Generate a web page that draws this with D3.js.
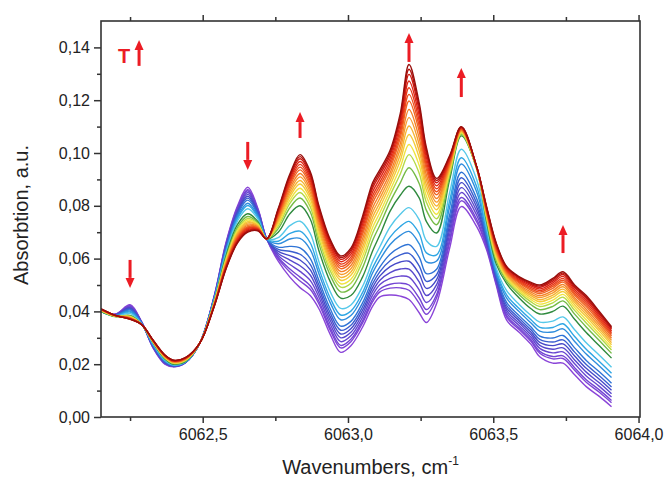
<!DOCTYPE html>
<html>
<head>
<meta charset="utf-8">
<script src="https://cdn.jsdelivr.net/npm/d3@7/dist/d3.min.js"></script>
<style>
	body { margin: 0; background: #fff; }
	svg { display: block; font-family: "Liberation Sans", Arial, sans-serif; }
</style>
</head>
<body>
<div id="chart"></div>
<script>
var wavenumbers = [6062.15, 6062.20, 6062.25, 6062.29, 6062.33, 6062.37, 6062.40, 6062.44, 6062.49, 6062.54,
	6062.58, 6062.62, 6062.655, 6062.69, 6062.72, 6062.76, 6062.80, 6062.835, 6062.87, 6062.90,
	6062.94, 6062.975, 6063.01, 6063.05, 6063.085, 6063.11, 6063.145, 6063.18, 6063.21, 6063.245,
	6063.27, 6063.305, 6063.35, 6063.39, 6063.443, 6063.477, 6063.51, 6063.546, 6063.59, 6063.63,
	6063.66, 6063.705, 6063.74, 6063.78, 6063.82, 6063.865, 6063.907];

// first scan (violet, lowest T)
var firstScan = [0.040, 0.039, 0.0425, 0.036, 0.026, 0.020, 0.019, 0.0205, 0.028, 0.046,
	0.066, 0.080, 0.087, 0.079, 0.0675, 0.059, 0.053, 0.049, 0.046, 0.041,
	0.031, 0.0245, 0.027, 0.034, 0.042, 0.0455, 0.0462, 0.0458, 0.0445, 0.0395,
	0.0358, 0.043, 0.064, 0.0797, 0.0721, 0.0633, 0.050, 0.0367, 0.032, 0.0275,
	0.0228, 0.0204, 0.0204, 0.016, 0.0115, 0.0078, 0.0039];

// dark green scan in the middle of the series
var midScan = [0.040, 0.038, 0.0385, 0.035, 0.028, 0.022, 0.020, 0.021, 0.028, 0.044,
	0.061, 0.073, 0.077, 0.074, 0.0675, 0.070, 0.077, 0.080, 0.075, 0.063,
	0.051, 0.045, 0.046, 0.053, 0.063, 0.069, 0.078, 0.084, 0.0874, 0.083,
	0.074, 0.0697, 0.090, 0.1065, 0.094, 0.074, 0.058, 0.0505, 0.045, 0.041,
	0.039, 0.040, 0.042, 0.037, 0.032, 0.027, 0.0223];

// last scan (dark red, highest T)
var lastScan = [0.041, 0.0385, 0.037, 0.035, 0.029, 0.0235, 0.0215, 0.0225, 0.028, 0.042,
	0.056, 0.066, 0.070, 0.0705, 0.0675, 0.079, 0.092, 0.0994, 0.093, 0.080,
	0.067, 0.061, 0.064, 0.076, 0.0888, 0.0937, 0.101, 0.115, 0.1335, 0.119,
	0.102, 0.0904, 0.099, 0.110, 0.0948, 0.0797, 0.066, 0.057, 0.0531, 0.051,
	0.050, 0.0525, 0.055, 0.050, 0.046, 0.040, 0.0342];

// height of every trace at the 6063.21 peak, violet -> red
var peakLevels = [0.0445, 0.048, 0.050, 0.053, 0.056, 0.059, 0.062, 0.0653, 0.0703, 0.0741,
	0.0793, 0.0874, 0.0944, 0.0994, 0.1032, 0.1070, 0.1102, 0.1134, 0.1165, 0.1197,
	0.1222, 0.1247, 0.1273, 0.1298, 0.1317, 0.1335];

var yTicks = [0, 0.02, 0.04, 0.06, 0.08, 0.10, 0.12, 0.14];
var yMinor = [0.01, 0.03, 0.05, 0.07, 0.09, 0.11, 0.13];
var xTicks = [6062.5, 6063.0, 6063.5, 6064.0];
var xMinor = [6062.25, 6062.75, 6063.25, 6063.75];

// red arrows: wavenumber, tail value, tip value
var arrowW = [6062.25, 6062.655, 6062.835, 6063.21, 6063.39, 6063.74, 6062.281];
var arrowFrom = [0.0595, 0.1042, 0.1057, 0.1345, 0.1212, 0.0621, 0.133];
var arrowTo = [0.0489, 0.0936, 0.1155, 0.1455, 0.1322, 0.0727, 0.1428];

function drawChart(){
	var W = 667, H = 482;
	var left = 101, top = 21, right = 640, bottom = 417;

	var svg = d3.select("#chart").append("svg")
		.attr("width", W).attr("height", H);

	var x = d3.scaleLinear().domain([6062.15, 6064.005]).range([left, right]);
	var y = d3.scaleLinear().domain([0, 0.15]).range([bottom, top]);

	var comma = function(f){ return function(d){ return d3.format(f)(d).replace(".", ","); }; };

	// build one trace from its peak level
	var k = wavenumbers.indexOf(6063.21);
	function trace(level){
		var a, b, f;
		if(level <= midScan[k]){
			a = firstScan; b = midScan;
			f = (level - firstScan[k]) / (midScan[k] - firstScan[k]);
		} else {
			a = midScan; b = lastScan;
			f = (level - midScan[k]) / (lastScan[k] - midScan[k]);
		}
		return wavenumbers.map(function(w, j){ return [w, a[j] + f * (b[j] - a[j])]; });
	}

	var n = peakLevels.length;
	var color = d3.scaleLinear()
		.domain([0, 0.12, 0.2, 0.28, 0.36, 0.41, 0.44, 0.5, 0.56, 0.66, 0.78, 0.9, 1])
		.range(["#8a44d8", "#6746d0", "#4649c8", "#2f74d6", "#2ea6e4", "#5fd0ea", "#2f8a3e",
			"#98d44a", "#f0e440", "#f8a830", "#f05a20", "#dc1c12", "#980e0c"]);

	svg.append("clipPath").attr("id", "plotClip")
		.append("rect").attr("x", left).attr("y", top)
		.attr("width", right - left).attr("height", bottom - top);

	var line = d3.line()
		.x(function(d){ return x(d[0]); })
		.y(function(d){ return y(d[1]); })
		.curve(d3.curveCatmullRom.alpha(0.5));

	svg.append("g").attr("clip-path", "url(#plotClip)")
		.selectAll("path")
		.data(peakLevels)
		.enter()
		.append("path")
		.attr("d", function(d){ return line(trace(d)); })
		.attr("fill", "none")
		.attr("stroke", function(d, i){ return color(i / (n - 1)); })
		.attr("stroke-width", 1.4);

	// axes
	var axisCol = "#333";
	var gl = svg.append("g").attr("transform", "translate(" + left + ",0)")
		.call(d3.axisLeft(y).tickValues(yTicks).tickSize(7).tickPadding(4).tickFormat(comma(".2f")));
	svg.append("g").attr("transform", "translate(" + left + ",0)")
		.call(d3.axisLeft(y).tickValues(yMinor).tickSize(4).tickFormat(""));
	var gb = svg.append("g").attr("transform", "translate(0," + bottom + ")")
		.call(d3.axisBottom(x).tickValues(xTicks).tickSize(6).tickPadding(6).tickFormat(comma(".1f")));
	svg.append("g").attr("transform", "translate(0," + bottom + ")")
		.call(d3.axisBottom(x).tickValues(xMinor).tickSize(4).tickFormat(""));
	svg.append("g").attr("transform", "translate(0," + top + ")")
		.call(d3.axisTop(x).tickValues(xTicks).tickSize(6).tickFormat(""));
	svg.append("g").attr("transform", "translate(0," + top + ")")
		.call(d3.axisTop(x).tickValues(xMinor).tickSize(4).tickFormat(""));

	svg.selectAll(".domain").remove();
	svg.selectAll(".tick line").attr("stroke", axisCol).attr("stroke-width", 1.5);
	svg.selectAll(".tick text").attr("fill", "#222").style("font-size", "16px")
		.style("font-family", "'Liberation Sans', Arial, sans-serif");

	svg.append("rect")
		.attr("x", left).attr("y", top)
		.attr("width", right - left).attr("height", bottom - top)
		.attr("fill", "none").attr("stroke", axisCol).attr("stroke-width", 1.6);

	// titles
	svg.append("text")
		.attr("transform", "translate(28," + ((top + bottom) / 2 - 4) + ") rotate(-90)")
		.attr("text-anchor", "middle")
		.attr("font-size", "20px").attr("fill", "#222")
		.text("Absorbtion, a.u.");

	var xt = svg.append("text")
		.attr("x", (left + right) / 2).attr("y", 474)
		.attr("text-anchor", "middle")
		.attr("font-size", "20px").attr("fill", "#222")
		.text("Wavenumbers, cm");
	xt.append("tspan").attr("dy", -9).attr("font-size", "12px").text("-1");

	// red arrows
	var red = "#ec1c24";
	arrowW.forEach(function(w, i){
		var x0 = x(w), y0 = y(arrowFrom[i]), y1 = y(arrowTo[i]);
		var dir = y1 > y0 ? 1 : -1;
		var neck = y1 - dir * 10;
		svg.append("line")
			.attr("x1", x0).attr("x2", x0).attr("y1", y0).attr("y2", neck)
			.attr("stroke", red).attr("stroke-width", 3);
		svg.append("path")
			.attr("d", "M" + (x0 - 4.5) + "," + neck + "L" + (x0 + 4.5) + "," + neck + "L" + x0 + "," + y1 + "Z")
			.attr("fill", red);
	});

	svg.append("text")
		.attr("x", 124).attr("y", 63)
		.attr("text-anchor", "middle")
		.attr("font-size", "20px").attr("font-weight", "bold")
		.attr("fill", red)
		.text("T");
}

drawChart();
</script>
</body>
</html>
